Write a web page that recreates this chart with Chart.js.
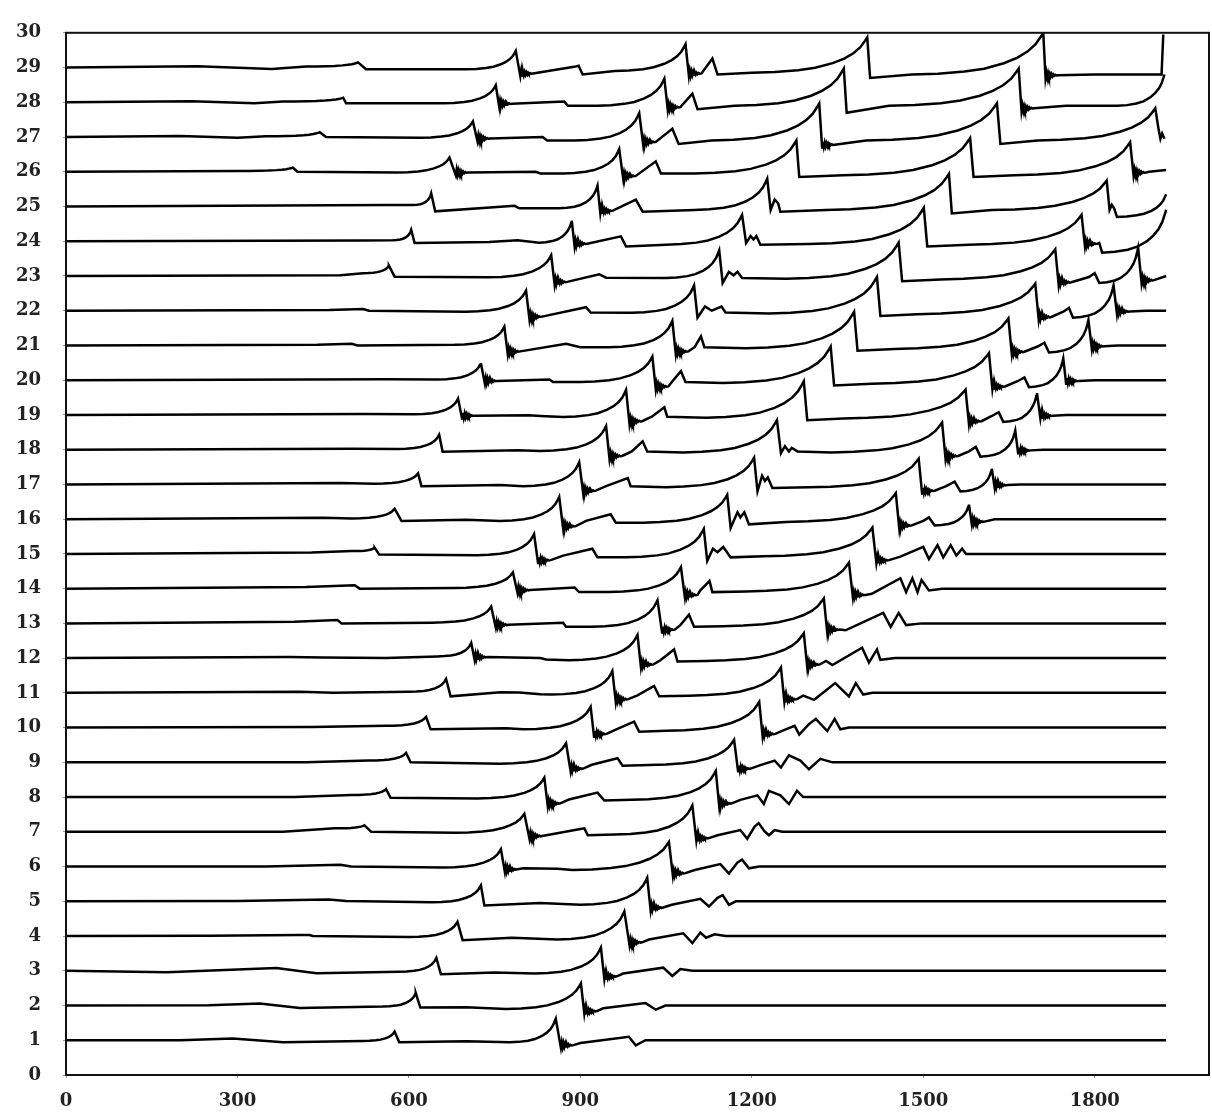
<!DOCTYPE html>
<html>
<head>
<meta charset="utf-8">
<script src="https://cdn.jsdelivr.net/npm/chart.js@4.4.1/dist/chart.umd.min.js"></script>
<style>
  html, body { margin: 0; padding: 0; background: #fff; }
  #wrap { width: 1212px; height: 1114px; position: relative; }
</style>
</head>
<body>
<div id="wrap"><canvas id="c"></canvas></div>
<script>
// ---- axis ticks ----
const xTicks = [0, 300, 600, 900, 1200, 1500, 1800];
const yTicks = [0,1,2,3,4,5,6,7,8,9,10,11,12,13,14,15,16,17,18,19,20,21,22,23,24,25,26,27,28,29,30];
const rowLevels = [1,2,3,4,5,6,7,8,9,10,11,12,13,14,15,16,17,18,19,20,21,22,23,24,25,26,27,28,29];

// ---- shape pieces ----
// concave rising front before a peak: [fraction of run, fraction of rise]
const arcShape = [[0,0],[0.2,0.02],[0.4,0.07],[0.55,0.14],[0.7,0.27],[0.8,0.4],[0.88,0.55],[0.94,0.72],[0.98,0.9],[1,1]];
// ringing after a sharp drop: [dx, dy above the drop level]
const ringShape = [[1.5,0.16],[3,0.02],[4.5,0.14],[6,0.03],[7.5,0.12],[9,0.04],[10.5,0.11],[12,0.05],[13.5,0.1],[15,0.06],[17,0.09],[19,0.07],[22,0.08]];

// ---- traces: [x, offset above row level, kind] kind 1 = concave front to this peak, 2 = ringing after this point ----
const row01 = [[0,0],[200,0],[292,0.05],[380,-0.06],[520,-0.02],[575,0.25,1],[583,-0.06],[700,-0.03],[776,-0.06],[857,0.62,1],[866,-0.22,2],[900,-0.08],[985,0.1],[997,-0.15],[1014,0],[1925,0]];
const row02 = [[0,0],[250,0.01],[339,0.06],[409,-0.07],[554,-0.03],[612,0.36,1],[620,-0.06],[700,-0.05],[770,-0.1],[901,0.64,1],[907,-0.24,2],[940,-0.08],[1014,0.07],[1032,-0.12],[1049,0],[1925,0]];
const row03 = [[0,0],[176,-0.04],[368,0.08],[438,-0.07],[583,-0.03],[648,0.37,1],[656,-0.1],[750,-0.05],[820,-0.08],[936,0.67,1],[942,-0.24,2],[975,-0.08],[1045,0.09],[1061,-0.15],[1075,0.05],[1096,0],[1925,0]];
const row04 = [[0,0],[250,0.01],[409,0.03],[426,0.03],[432,0],[600,-0.03],[685,0.41,1],[694,-0.12],[780,-0.05],[860,-0.1],[977,0.71,1],[986,-0.26,2],[1020,-0.1],[1080,0.08],[1096,-0.2],[1110,0.1],[1120,-0.05],[1135,0.05],[1154,0],[1925,0]];
const row05 = [[0,0],[300,0.01],[460,0.05],[490,0.01],[640,-0.03],[726,0.46,1],[732,-0.12],[830,-0.05],[900,-0.1],[1017,0.68,1],[1023,-0.26,2],[1060,-0.1],[1110,0.07],[1125,-0.15],[1140,0.1],[1149,0.18],[1160,-0.1],[1172,0],[1925,0]];
const row06 = [[0,0],[350,0],[480,0.05],[499,0],[660,-0.03],[761,0.5,1],[768,-0.16,2],[800,-0.05],[860,-0.06],[886,-0.1],[1055,0.71,1],[1062,-0.27,2],[1100,-0.1],[1145,0.07],[1160,-0.2],[1175,0.12],[1183,0.2],[1195,-0.05],[1213,0],[1925,0]];
const row07 = [[0,0],[380,0],[470,0.1],[522,0.19,1],[534,0],[680,-0.03],[802,0.52,1],[811,-0.2,2],[850,-0.07],[900,0.08],[907,0.1],[913,-0.1],[960,-0.08],[1096,0.76,1],[1103,-0.26,2],[1140,-0.1],[1180,0.05],[1192,-0.2],[1205,0.15],[1212,0.25],[1222,0.02],[1230,-0.1],[1240,0.05],[1253,0],[1925,0]];
const row08 = [[0,0],[400,0],[500,0.06],[560,0.23,1],[568,-0.02],[720,-0.04],[837,0.56,1],[843,-0.26,2],[880,-0.07],[930,0.13],[942,-0.1],[990,-0.08],[1137,0.75,1],[1143,-0.26,2],[1180,-0.08],[1210,0.05],[1221,-0.2],[1230,0.18],[1250,0.05],[1265,-0.2],[1279,0.18],[1290,0],[1925,0]];
const row09 = [[0,0],[420,0],[530,0.05],[595,0.27,1],[603,0],[760,-0.04],[875,0.55,1],[883,-0.26,2],[920,-0.07],[965,0.12],[974,-0.1],[1020,-0.08],[1169,0.65,1],[1176,-0.26,2],[1215,-0.08],[1240,0.05],[1251,-0.15],[1265,0.2],[1285,0.05],[1300,-0.2],[1320,0.1],[1341,0],[1925,0]];
const row10 = [[0,0],[430,0.02],[560,0.05],[630,0.31,1],[638,-0.05],[770,-0.02],[800,-0.05],[918,0.6,1],[924,-0.26,2],[960,-0.07],[994,0.17],[1003,-0.12],[1050,-0.09],[1213,0.74,1],[1219,-0.26,2],[1255,-0.08],[1275,0.05],[1283,-0.2],[1300,0.1],[1312,0.25],[1332,-0.1],[1345,0.25],[1355,-0.05],[1370,0],[1925,0]];
const row11 = [[0,0],[409,0.03],[467,0],[600,0.03],[665,0.4,1],[673,-0.1],[760,0.02],[793,0.01],[830,-0.04],[850,-0.05],[956,0.63,1],[962,-0.26,2],[1000,-0.07],[1029,0.2],[1038,-0.1],[1090,-0.08],[1251,0.73,1],[1257,-0.26,2],[1290,-0.08],[1309,-0.2],[1346,0.28],[1370,-0.1],[1382,0.28],[1395,-0.05],[1411,0],[1925,0]];
const row12 = [[0,0],[390,0.03],[450,0.02],[560,0],[650,0.05],[709,0.44,1],[715,-0.05,2],[830,0],[840,-0.04],[880,-0.06],[1000,0.67,1],[1006,-0.26,2],[1040,-0.06],[1064,0.25],[1070,-0.1],[1120,-0.08],[1291,0.72,1],[1297,-0.26,2],[1330,-0.08],[1341,-0.2],[1393,0.3],[1405,-0.13],[1419,0.25],[1425,-0.05],[1451,0],[1925,0]];
const row13 = [[0,0],[400,0.05],[475,0.1],[482,0],[640,0.02],[744,0.48,1],[752,-0.12,2],[870,0.02],[875,-0.1],[920,-0.1],[1035,0.67,1],[1043,-0.26,2],[1075,-0.05],[1090,0.25],[1099,-0.1],[1150,-0.08],[1326,0.72,1],[1332,-0.26,2],[1364,-0.2],[1430,0.3],[1443,-0.1],[1457,0.3],[1470,-0.05],[1498,0],[1925,0]];
const row14 = [[0,0],[420,0.05],[505,0.1],[514,0],[680,0.02],[782,0.47,1],[790,-0.12,2],[890,0.03],[898,-0.1],[950,-0.1],[1076,0.62,1],[1083,-0.26,2],[1110,-0.05],[1126,0.22],[1131,-0.1],[1190,-0.08],[1370,0.75,1],[1377,-0.26,2],[1410,-0.15],[1460,0.3],[1470,-0.1],[1481,0.3],[1490,-0.1],[1497,0.25],[1510,-0.05],[1533,0],[1925,0]];
const row15 = [[0,0],[430,0.04],[500,0.08],[540,0.18,1],[548,-0.02],[720,-0.04],[819,0.57,1],[826,-0.26,2],[870,-0.05],[921,0.15],[930,-0.1],[980,-0.1],[1116,0.72,1],[1122,-0.2],[1132,0.15],[1140,0.05],[1150,0.2],[1163,-0.1],[1220,-0.07],[1411,0.76,1],[1418,-0.26,2],[1460,-0.08],[1500,0.2],[1510,-0.15],[1525,0.25],[1535,-0.1],[1548,0.25],[1558,-0.05],[1568,0.15],[1575,0],[1925,0]];
const row16 = [[0,0],[450,0.04],[500,0.02],[575,0.3,1],[587,-0.05],[700,-0.02],[760,-0.05],[863,0.64,1],[870,-0.28,2],[910,-0.05],[953,0.14],[962,-0.1],[1010,-0.1],[1157,0.7,1],[1163,-0.25],[1175,0.2],[1180,0.05],[1187,0.2],[1195,-0.15],[1260,-0.08],[1452,0.75,1],[1458,-0.26,2],[1500,-0.05],[1510,0.05],[1520,-0.18],[1580,0.42,1],[1585,-0.15,2],[1625,0],[1925,0]];
const row17 = [[0,0],[480,0.04],[540,0.02],[616,0.32,1],[622,-0.05],[760,-0.02],[800,-0.05],[898,0.64,1],[905,-0.26,2],[945,-0.05],[983,0.18],[988,-0.05],[1050,-0.08],[1204,0.77,1],[1210,-0.2],[1218,0.25],[1223,0.1],[1228,0.2],[1236,-0.1],[1300,-0.08],[1492,0.74,1],[1498,-0.26,2],[1540,-0.05],[1555,0.08],[1565,-0.2],[1620,0.45,1],[1625,-0.1,2],[1670,0],[1925,0]];
const row18 = [[0,0],[500,0.03],[580,0.02],[653,0.43,1],[659,-0.06],[790,-0.02],[830,-0.04],[945,0.68,1],[951,-0.26,2],[990,-0.05],[1009,0.24],[1017,-0.05],[1080,-0.08],[1244,0.85,1],[1251,-0.1],[1258,0.1],[1265,-0.05],[1270,0.05],[1280,-0.05],[1340,-0.08],[1533,0.78,1],[1539,-0.26,2],[1580,-0.05],[1592,0.08],[1600,-0.2],[1661,0.55,1],[1666,-0.1,2],[1710,0],[1925,0]];
const row19 = [[0,0],[520,0.03],[610,0.02],[686,0.47,1],[693,-0.1,2],[810,-0.01],[830,-0.03],[870,-0.06],[980,0.72,1],[986,-0.26,2],[1025,-0.05],[1047,0.22],[1052,-0.05],[1120,-0.08],[1291,0.97,1],[1297,-0.15],[1360,-0.1],[1574,0.73,1],[1580,-0.26,2],[1620,-0.03],[1632,0.08],[1640,-0.2],[1699,0.63,1],[1705,-0.1,2],[1750,0],[1925,0]];
const row20 = [[0,0],[560,0.03],[650,0.02],[726,0.49,1],[733,-0.1,2],[846,0.02],[852,-0.05],[900,-0.05],[1026,0.68,1],[1032,-0.26,2],[1060,-0.05],[1076,0.26],[1084,-0.05],[1150,-0.08],[1338,0.97,1],[1344,-0.15],[1410,-0.1],[1615,0.78,1],[1621,-0.26,2],[1665,-0.03],[1677,0.08],[1685,-0.2],[1745,0.63,1],[1750,-0.1,2],[1800,0],[1925,0]];
const row21 = [[0,0],[440,0.02],[500,0.05],[510,0],[680,0.02],[767,0.54,1],[773,-0.25,2],[875,0.05],[900,-0.05],[950,-0.05],[1061,0.71,1],[1067,-0.25,2],[1100,-0.05],[1111,0.26],[1117,-0.05],[1190,-0.08],[1379,0.97,1],[1385,-0.15],[1450,-0.1],[1649,0.78,1],[1655,-0.26,2],[1700,-0.03],[1712,0.08],[1720,-0.2],[1789,0.73,1],[1795,-0.1,2],[1840,0],[1925,0]];
const row22 = [[0,0],[460,0.02],[520,0.05],[530,0],[700,-0.03],[805,0.58,1],[811,-0.25,2],[910,0.1],[918,-0.05],[990,-0.06],[1099,0.73,1],[1105,-0.2],[1118,0.12],[1130,0],[1147,0.12],[1154,-0.05],[1230,-0.08],[1419,0.97,1],[1425,-0.15],[1490,-0.1],[1696,0.78,1],[1702,-0.26,2],[1745,-0.03],[1755,0.08],[1762,-0.2],[1833,0.73,1],[1839,-0.1,2],[1890,0],[1925,0]];
const row23 = [[0,0],[480,0.02],[520,0.08],[565,0.3,1],[575,-0.02],[740,-0.04],[849,0.6,1],[855,-0.25,2],[933,0.05],[945,-0.05],[1050,-0.06],[1143,0.74,1],[1149,-0.2],[1160,0.12],[1168,0.02],[1175,0.12],[1183,-0.06],[1260,-0.08],[1457,0.96,1],[1463,-0.15],[1530,-0.1],[1731,0.77,1],[1737,-0.26,2],[1790,-0.03],[1800,0.08],[1808,-0.2],[1876,0.81,1],[1882,-0.2,2],[1925,0]];
const row24 = [[0,0],[520,0.02],[572,0.03],[604,0.33,1],[610,-0.05],[740,-0.02],[790,0.03],[828,-0.04],[885,0.59,1],[890,-0.15,2],[971,0.14],[980,-0.15],[1050,-0.1],[1183,0.76,1],[1190,-0.05],[1198,0.15],[1203,0.05],[1208,0.15],[1215,-0.1],[1300,-0.08],[1501,0.96,1],[1507,-0.15],[1580,-0.1],[1777,0.76,1],[1783,-0.15,2],[1808,-0.05],[1813,-0.33],[1925,0.9,1]];
const row25 = [[0,0],[560,0.04],[607,0.04],[639,0.38,1],[646,-0.14],[785,0.02],[793,-0.05],[863,-0.05],[930,0.6,1],[935,-0.2,2],[997,0.2],[1009,-0.15],[1100,-0.1],[1227,0.8,1],[1233,-0.1],[1240,0.2],[1246,0.1],[1250,-0.15],[1330,-0.1],[1545,0.94,1],[1550,-0.2],[1620,-0.1],[1821,0.75,1],[1826,-0.1],[1830,0.05],[1834,-0.05],[1839,-0.3],[1925,0.35,1]];
const row26 = [[0,0],[300,0.02],[397,0.12,1],[405,0],[580,-0.02],[671,0.41,1],[682,-0.1,2],[822,0],[830,-0.05],[870,-0.05],[968,0.65,1],[975,-0.2,2],[1032,0.3],[1041,-0.05],[1100,-0.05],[1278,0.9,1],[1283,-0.15],[1360,-0.1],[1582,0.97,1],[1588,-0.15],[1660,-0.1],[1862,0.85,1],[1868,-0.1,2],[1895,0],[1925,0.05]];
const row27 = [[0,0],[200,0.03],[300,-0.02],[350,0.02],[444,0.14,1],[455,0],[620,-0.02],[712,0.45,1],[720,-0.12,2],[834,0],[842,-0.1],[890,-0.1],[1003,0.69,1],[1010,-0.22,2],[1061,0.24],[1072,-0.2],[1130,-0.1],[1318,0.97,1],[1323,-0.3,2],[1400,-0.1],[1629,0.97,1],[1635,-0.2],[1700,-0.1],[1906,0.83,1],[1912,0.2],[1915,-0.05],[1918,0.1],[1922,-0.05]];
const row28 = [[0,0],[220,0.03],[330,-0.03],[380,0.02],[485,0.13,1],[490,-0.03],[660,-0.03],[752,0.49,1],[758,-0.12,2],[872,0.02],[878,-0.1],[930,-0.1],[1047,0.68,1],[1053,-0.22,2],[1096,0.25],[1105,-0.2],[1170,-0.1],[1361,0.97,1],[1366,-0.3],[1440,-0.1],[1667,0.97,1],[1672,-0.25,2],[1750,-0.1],[1840,-0.1],[1922,0.8,1]];
const row29 = [[0,0],[230,0.04],[360,-0.04],[420,0.03],[511,0.15,1],[525,-0.05],[700,-0.05],[787,0.48,1],[795,-0.25,2],[889,0.02],[897,0.05],[904,-0.2],[960,-0.1],[1084,0.67,1],[1090,-0.25,2],[1131,0.26],[1140,-0.2],[1200,-0.15],[1402,0.87,1],[1407,-0.3],[1480,-0.2],[1710,1.0,1],[1714,-0.3,2],[1800,-0.2],[1917,-0.2],[1920,0.95]];

const traces = [row01,row02,row03,row04,row05,row06,row07,row08,row09,row10,row11,row12,row13,row14,row15,row16,row17,row18,row19,row20,row21,row22,row23,row24,row25,row26,row27,row28,row29];

function buildPoints(spec, level) {
  const pts = [];
  let prev = null;
  for (const s of spec) {
    const x = s[0], y = s[1], kind = s[2] || 0;
    if (kind === 1 && prev) {
      for (const [t, f] of arcShape) {
        if (t === 0) continue;
        pts.push({ x: prev[0] + t * (x - prev[0]), y: level + prev[1] + f * (y - prev[1]) });
      }
    } else {
      pts.push({ x: x, y: level + y });
    }
    prev = [x, y];
    if (kind === 2) {
      for (const [dx, dy] of ringShape) pts.push({ x: x + dx, y: level + y + dy });
      const last = ringShape[ringShape.length - 1];
      prev = [x + last[0], y + last[1]];
    }
  }
  return pts;
}

const datasets = traces.map((spec, i) => ({
  label: 'row ' + rowLevels[i],
  data: buildPoints(spec, rowLevels[i]),
  borderColor: '#000',
  borderWidth: 2.5,
  pointRadius: 0,
  tension: 0,
  fill: false
}));

const frame = {
  id: 'frame',
  afterDatasetsDraw(chart) {
    const a = chart.chartArea, ctx = chart.ctx;
    ctx.save();
    ctx.strokeStyle = '#111';
    ctx.lineWidth = 2;
    ctx.strokeRect(a.left, a.top, a.right - a.left, a.bottom - a.top);
    ctx.restore();
  }
};

const tickFont = { family: '"DejaVu Serif", "Liberation Serif", serif', size: 18, weight: 'bold' };

new Chart(document.getElementById('c'), {
  type: 'line',
  data: { datasets },
  options: {
    responsive: true,
    maintainAspectRatio: false,
    animation: false,
    layout: { padding: { top: 18, right: 3, left: 0, bottom: 0 } },
    plugins: { legend: { display: false }, tooltip: { enabled: false } },
    scales: {
      x: {
        type: 'linear', min: 0, max: 2000,
        afterBuildTicks: (s) => { s.ticks = xTicks.map(v => ({ value: v })); },
        afterFit: (s) => { s.height = 39; },
        ticks: { font: tickFont, color: '#222', padding: 13, maxRotation: 0, callback: (v) => String(v) },
        grid: { display: true, drawOnChartArea: false, drawTicks: true, tickLength: 3, color: '#999' },
        border: { display: true, color: '#111', width: 2 }
      },
      y: {
        type: 'linear', min: 0, max: 30,
        afterBuildTicks: (s) => { s.ticks = yTicks.map(v => ({ value: v })); },
        afterFit: (s) => { s.width = 66; },
        ticks: { font: tickFont, color: '#222', padding: 22, callback: (v) => String(v) },
        grid: { display: true, drawOnChartArea: false, drawTicks: true, tickLength: 3, color: '#999' },
        border: { display: true, color: '#111', width: 2 }
      }
    }
  },
  plugins: [frame]
});
</script>
</body>
</html>
